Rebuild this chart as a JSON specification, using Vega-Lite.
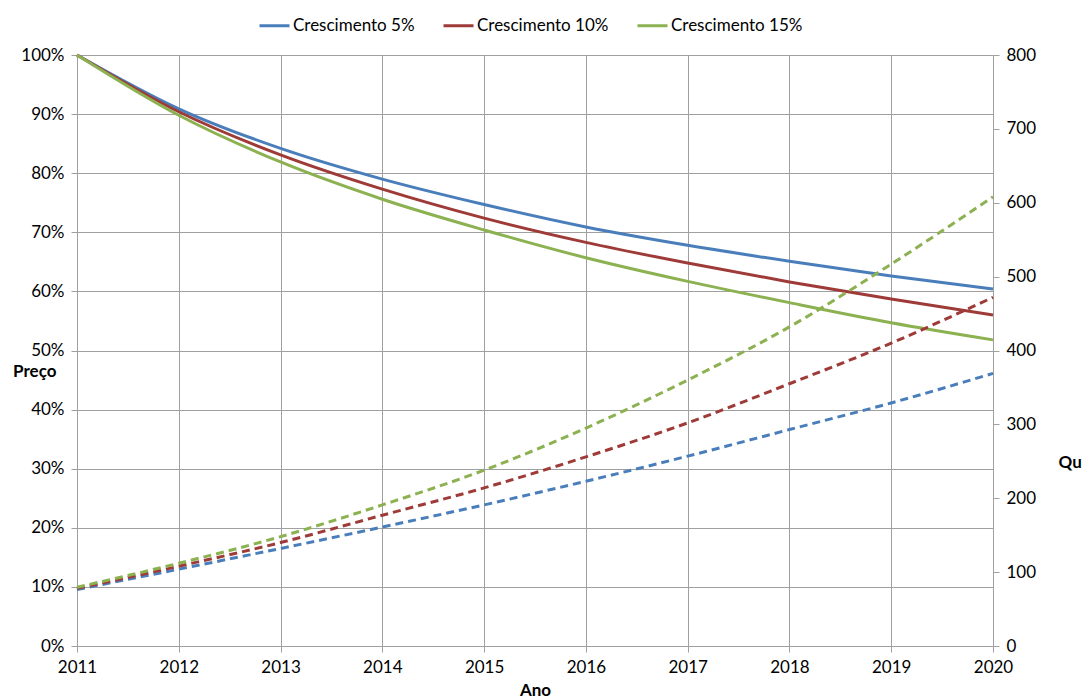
{
  "$schema": "https://vega.github.io/schema/vega-lite/v6.json",
  "width": 916,
  "height": 591,
  "autosize": {"type": "none"},
  "padding": {"left": 77, "top": 55, "right": 91, "bottom": 54},
  "background": "white",
  "config": {
    "font": "Lato",
    "view": {"stroke": null},
    "axis": {
      "labelFont": "Lato",
      "labelFontSize": 17,
      "labelColor": "#000000",
      "titleFont": "Lato",
      "titleFontSize": 17,
      "titleFontWeight": "bold",
      "titleColor": "#000000",
      "gridColor": "#A0A0A0",
      "gridWidth": 1,
      "domainColor": "#A0A0A0",
      "tickColor": "#A0A0A0",
      "tickSize": 6,
      "labelPadding": 7
    }
  },
  "data": {
    "values": [
      {"ano": 2011, "serie": "Crescimento 5%", "preco": 1.0, "qu": 76.5},
      {"ano": 2012, "serie": "Crescimento 5%", "preco": 0.909, "qu": 104},
      {"ano": 2013, "serie": "Crescimento 5%", "preco": 0.842, "qu": 132},
      {"ano": 2014, "serie": "Crescimento 5%", "preco": 0.790, "qu": 161},
      {"ano": 2015, "serie": "Crescimento 5%", "preco": 0.747, "qu": 191},
      {"ano": 2016, "serie": "Crescimento 5%", "preco": 0.709, "qu": 223},
      {"ano": 2017, "serie": "Crescimento 5%", "preco": 0.678, "qu": 257},
      {"ano": 2018, "serie": "Crescimento 5%", "preco": 0.651, "qu": 293},
      {"ano": 2019, "serie": "Crescimento 5%", "preco": 0.626, "qu": 329},
      {"ano": 2020, "serie": "Crescimento 5%", "preco": 0.604, "qu": 369},
      {"ano": 2011, "serie": "Crescimento 10%", "preco": 1.0, "qu": 78},
      {"ano": 2012, "serie": "Crescimento 10%", "preco": 0.904, "qu": 108},
      {"ano": 2013, "serie": "Crescimento 10%", "preco": 0.831, "qu": 140},
      {"ano": 2014, "serie": "Crescimento 10%", "preco": 0.773, "qu": 177},
      {"ano": 2015, "serie": "Crescimento 10%", "preco": 0.724, "qu": 214},
      {"ano": 2016, "serie": "Crescimento 10%", "preco": 0.683, "qu": 256},
      {"ano": 2017, "serie": "Crescimento 10%", "preco": 0.648, "qu": 302},
      {"ano": 2018, "serie": "Crescimento 10%", "preco": 0.616, "qu": 355},
      {"ano": 2019, "serie": "Crescimento 10%", "preco": 0.587, "qu": 410},
      {"ano": 2020, "serie": "Crescimento 10%", "preco": 0.560, "qu": 472},
      {"ano": 2011, "serie": "Crescimento 15%", "preco": 1.0, "qu": 79.5},
      {"ano": 2012, "serie": "Crescimento 15%", "preco": 0.898, "qu": 112},
      {"ano": 2013, "serie": "Crescimento 15%", "preco": 0.819, "qu": 148},
      {"ano": 2014, "serie": "Crescimento 15%", "preco": 0.756, "qu": 191},
      {"ano": 2015, "serie": "Crescimento 15%", "preco": 0.704, "qu": 238},
      {"ano": 2016, "serie": "Crescimento 15%", "preco": 0.657, "qu": 295},
      {"ano": 2017, "serie": "Crescimento 15%", "preco": 0.617, "qu": 360},
      {"ano": 2018, "serie": "Crescimento 15%", "preco": 0.581, "qu": 432},
      {"ano": 2019, "serie": "Crescimento 15%", "preco": 0.547, "qu": 517},
      {"ano": 2020, "serie": "Crescimento 15%", "preco": 0.518, "qu": 608}
    ]
  },
  "encoding": {
    "x": {
      "field": "ano",
      "type": "quantitative",
      "scale": {"domain": [2011, 2020], "nice": false, "zero": false},
      "axis": {
        "title": "Ano",
        "values": [2011, 2012, 2013, 2014, 2015, 2016, 2017, 2018, 2019, 2020],
        "format": "d",
        "grid": true,
        "labelFlush": false,
        "titleY": 44,
        "titleBaseline": "middle"
      }
    },
    "color": {
      "field": "serie",
      "type": "nominal",
      "scale": {
        "domain": ["Crescimento 5%", "Crescimento 10%", "Crescimento 15%"],
        "range": ["#4A7EBB", "#9E3B38", "#8CB150"]
      },
      "legend": {
        "title": null,
        "orient": "none",
        "direction": "horizontal",
        "legendX": 181,
        "legendY": -46,
        "symbolType": "stroke",
        "symbolStrokeWidth": 3,
        "symbolSize": 900,
        "labelFont": "Lato",
        "labelFontSize": 17,
        "labelColor": "#000000",
        "columnPadding": 22,
        "labelOffset": 2
      }
    }
  },
  "layer": [
    {
      "mark": {"type": "line", "strokeWidth": 3, "interpolate": "monotone"},
      "encoding": {
        "y": {
          "field": "preco",
          "type": "quantitative",
          "scale": {"domain": [0, 1], "nice": false},
          "axis": {
            "title": "Preço",
            "orient": "left",
            "format": ".0%",
            "values": [0, 0.1, 0.2, 0.3, 0.4, 0.5, 0.6, 0.7, 0.8, 0.9, 1.0],
            "grid": true,
            "titleAngle": 0,
            "titleAlign": "right",
            "titleBaseline": "middle",
            "titleX": -21,
            "titleY": 316
          }
        }
      }
    },
    {
      "mark": {"type": "line", "strokeWidth": 3, "strokeDash": [8, 5], "interpolate": "monotone"},
      "encoding": {
        "y": {
          "field": "qu",
          "type": "quantitative",
          "scale": {"domain": [0, 800], "nice": false},
          "axis": {
            "title": "Qu",
            "orient": "right",
            "values": [0, 100, 200, 300, 400, 500, 600, 700, 800],
            "grid": false,
            "titleAngle": 0,
            "titleAlign": "left",
            "titleBaseline": "middle",
            "titleX": 65,
            "titleY": 407
          }
        }
      }
    }
  ],
  "resolve": {"scale": {"y": "independent"}}
}
